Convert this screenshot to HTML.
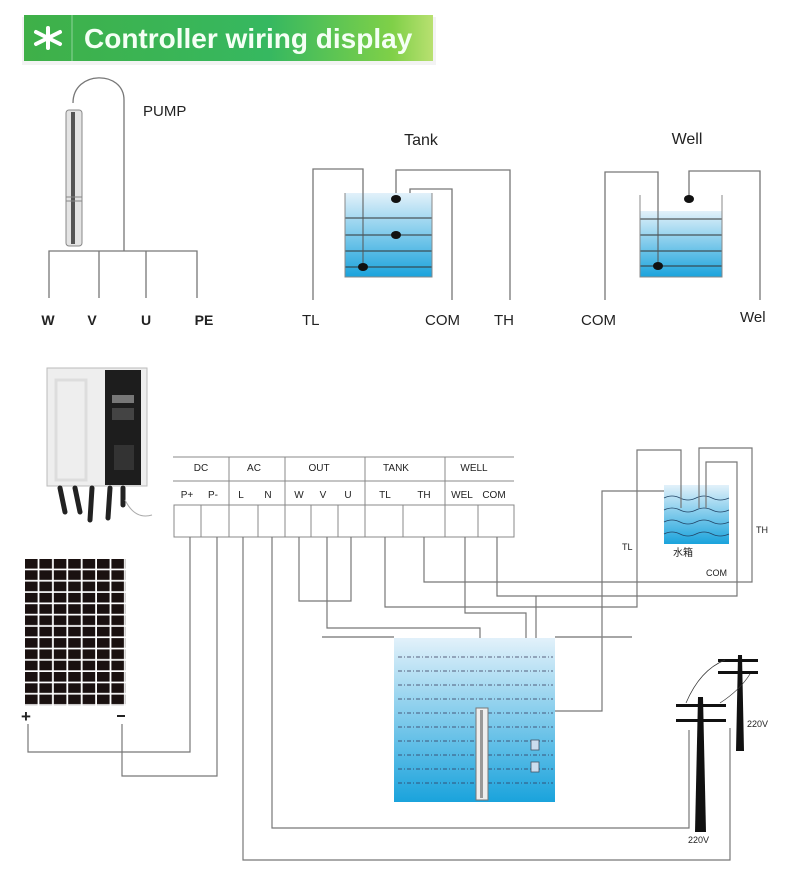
<!DOCTYPE html>
<html><head><meta charset="utf-8"><style>
html,body{margin:0;padding:0;background:#fff;}
svg{display:block;}
text{font-family:"Liberation Sans","Noto Sans CJK SC",sans-serif;fill:#222;}
</style></head><body>
<svg width="790" height="878" viewBox="0 0 790 878" xmlns="http://www.w3.org/2000/svg">
<defs>
<linearGradient id="ban" x1="0" x2="1" y1="0" y2="0">
<stop offset="0" stop-color="#3fb048"/><stop offset="0.6" stop-color="#36b860"/><stop offset="0.9" stop-color="#7fd048"/><stop offset="1" stop-color="#b8e070"/></linearGradient>
<linearGradient id="wat" x1="0" x2="0" y1="0" y2="1">
<stop offset="0" stop-color="#e2f1fa"/><stop offset="1" stop-color="#1aa3dc"/></linearGradient>
<pattern id="cells" x="25" y="559" width="14.4" height="11.3" patternUnits="userSpaceOnUse">
<rect x="0" y="0" width="12.6" height="9.6" fill="#1a1110"/></pattern>
</defs>
<!-- banner -->
<rect x="22" y="17" width="414" height="48" fill="#e8e8e8" opacity="0.5"/>
<rect x="24" y="15" width="409" height="46" fill="url(#ban)"/>
<line x1="72" y1="15" x2="72" y2="61" stroke="#8fd49a" stroke-width="1"/>
<g stroke="#fff" stroke-width="4" stroke-linecap="round" fill="none">
<line x1="48" y1="28" x2="48" y2="48"/><line x1="36" y1="32" x2="60" y2="44"/><line x1="60" y1="32" x2="36" y2="44"/>
</g>
<text x="84" y="48" font-size="28" font-weight="bold" style="fill:#f4fff4">Controller wiring display</text>

<g stroke="#777" stroke-width="1.3" fill="none">
<path d="M73 103 C73 70 124 70 124 100 L124 251"/>
<path d="M49 298 V251 H197 V298 M99 251 V298 M146 251 V298"/>
<path d="M313 300 V169 H363 V267 M396 199 V170 H510 V300 M396 235 H410 V189 H452 V300"/>
<path d="M605 300 V172 H658 V266 M689 199 V171 H760 V300"/>
</g>
<rect x="66" y="110" width="16" height="136" rx="3" fill="#e4e4e4" stroke="#888"/>
<rect x="71" y="112" width="4" height="132" fill="#555"/>
<line x1="66" y1="197" x2="82" y2="197" stroke="#888"/><line x1="66" y1="201" x2="82" y2="201" stroke="#888"/>
<text x="143" y="116" font-size="15">PUMP</text>
<g font-size="14" font-weight="bold" text-anchor="middle"><text x="48" y="325">W</text><text x="92" y="325">V</text><text x="146" y="325">U</text><text x="204" y="325">PE</text></g>

<rect x="345" y="193" width="87" height="84" fill="url(#wat)"/>
<g stroke="#333" stroke-width="1"><line x1="345" y1="218" x2="432" y2="218"/><line x1="345" y1="235" x2="432" y2="235"/><line x1="345" y1="251" x2="432" y2="251"/><line x1="345" y1="267" x2="432" y2="267"/></g>
<path d="M345 193 V277 H432 V193" stroke="#888" fill="none"/>
<line x1="363" y1="193" x2="363" y2="267" stroke="#555"/>
<g fill="#111"><ellipse cx="363" cy="267" rx="5" ry="4"/><ellipse cx="396" cy="199" rx="5" ry="4"/><ellipse cx="396" cy="235" rx="5" ry="4"/></g>
<text x="421" y="145" font-size="16" text-anchor="middle">Tank</text>
<g font-size="15"><text x="302" y="325">TL</text><text x="425" y="325">COM</text><text x="494" y="325">TH</text></g>

<rect x="640" y="211" width="82" height="66" fill="url(#wat)"/>
<g stroke="#333" stroke-width="1"><line x1="640" y1="219" x2="722" y2="219"/><line x1="640" y1="235" x2="722" y2="235"/><line x1="640" y1="251" x2="722" y2="251"/><line x1="640" y1="266" x2="722" y2="266"/></g>
<path d="M640 195 V277 H722 V195" stroke="#888" fill="none"/>
<line x1="658" y1="211" x2="658" y2="266" stroke="#555"/>
<g fill="#111"><ellipse cx="658" cy="266" rx="5" ry="4"/><ellipse cx="689" cy="199" rx="5" ry="4"/></g>
<text x="687" y="144" font-size="16" text-anchor="middle">Well</text>
<g font-size="15"><text x="581" y="325">COM</text><text x="740" y="322">Wel</text></g>

<rect x="47" y="368" width="100" height="118" fill="#eeeeee" stroke="#bbb"/>
<rect x="56" y="380" width="30" height="100" fill="none" stroke="#ddd" stroke-width="3"/>
<rect x="105" y="370" width="36" height="115" fill="#1d1d1d"/>
<rect x="112" y="395" width="22" height="8" fill="#777"/>
<rect x="112" y="408" width="22" height="12" fill="#444"/>
<rect x="114" y="445" width="20" height="25" fill="#333"/>
<g stroke="#222" stroke-width="5" stroke-linecap="round"><line x1="60" y1="488" x2="65" y2="512"/><line x1="75" y1="488" x2="80" y2="512"/><line x1="92" y1="488" x2="90" y2="520"/><line x1="110" y1="488" x2="108" y2="518"/><line x1="123" y1="488" x2="123" y2="505"/></g>
<path d="M125 500 Q135 520 152 515" stroke="#aaa" fill="none"/>

<g stroke="#888" stroke-width="1" fill="none">
<line x1="173" y1="457" x2="514" y2="457"/><line x1="173" y1="481" x2="514" y2="481"/>
<path d="M229 457 V505 M285 457 V505 M365 457 V505 M445 457 V505"/>
<rect x="174" y="505" width="340" height="32"/>
<path d="M201 505 V537 M229 505 V537 M258 505 V537 M285 505 V537 M311 505 V537 M338 505 V537 M365 505 V537 M403 505 V537 M445 505 V537 M478 505 V537"/>
</g>
<g font-size="10" text-anchor="middle"><text x="201" y="471">DC</text><text x="254" y="471">AC</text><text x="319" y="471">OUT</text><text x="396" y="471">TANK</text><text x="474" y="471">WELL</text>
<text x="187" y="498">P+</text><text x="213" y="498">P-</text><text x="241" y="498">L</text><text x="268" y="498">N</text><text x="299" y="498">W</text><text x="323" y="498">V</text><text x="348" y="498">U</text><text x="385" y="498">TL</text><text x="424" y="498">TH</text><text x="462" y="498">WEL</text><text x="494" y="498">COM</text></g>

<rect x="664" y="485" width="65" height="59" fill="url(#wat)"/>
<g stroke="#246" stroke-width="0.8" fill="none">
<path d="M664 498 q8 -4 16 0 t16 0 t16 0 t17 0"/><path d="M664 510 q8 -4 16 0 t16 0 t16 0 t17 0"/><path d="M664 522 q8 -4 16 0 t16 0 t16 0 t17 0"/><path d="M664 534 q8 -4 16 0 t16 0 t16 0 t17 0"/></g>
<text x="683" y="556" font-size="10" text-anchor="middle">水箱</text>
<g font-size="9"><text x="622" y="550">TL</text><text x="756" y="533">TH</text><text x="706" y="576">COM</text></g>

<g stroke="#777" stroke-width="1.2" fill="none">
<path d="M190 537 V752 H28 V724"/>
<path d="M217 537 V776 H122 V724"/>
<path d="M243 537 V860 H730 V728"/>
<path d="M272 537 V828 H689 V730"/>
<path d="M299 537 V601 H351 V537"/>
<path d="M327 537 V628 H480 V708"/>
<path d="M385 537 V607 H637 V450 H681 V508"/>
<path d="M424 537 V582 H752 V448 H699 V508"/>
<path d="M465 537 V613 H526 V742"/>
<path d="M497 537 V596 H737 V462 H706 V508"/>
<path d="M536 596 V742"/>
<path d="M664 491 H602 V711 H488"/>
</g>

<rect x="394" y="638" width="161" height="164" fill="url(#wat)"/>
<g stroke="#888" stroke-width="1.5"><line x1="322" y1="637" x2="394" y2="637"/><line x1="555" y1="637" x2="632" y2="637"/></g>
<g stroke="#335" stroke-width="0.8" stroke-dasharray="4 2 1 2">
<line x1="398" y1="657" x2="553" y2="657"/><line x1="398" y1="671" x2="553" y2="671"/><line x1="398" y1="685" x2="553" y2="685"/><line x1="398" y1="699" x2="553" y2="699"/><line x1="398" y1="713" x2="553" y2="713"/><line x1="398" y1="727" x2="553" y2="727"/><line x1="398" y1="741" x2="553" y2="741"/><line x1="398" y1="755" x2="553" y2="755"/><line x1="398" y1="769" x2="553" y2="769"/><line x1="398" y1="783" x2="553" y2="783"/></g>
<rect x="476" y="708" width="12" height="92" fill="#eee" stroke="#777"/>
<rect x="480" y="710" width="3" height="88" fill="#999"/>
<g fill="#cde" stroke="#456" stroke-width="0.8"><rect x="531" y="740" width="8" height="10"/><rect x="531" y="762" width="8" height="10"/></g>

<g fill="#111">
<path d="M698 697 h5 l3 135 h-11 z"/>
<rect x="676" y="704" width="50" height="3"/><rect x="676" y="719" width="50" height="3"/>
<path d="M738 655 h4 l2 96 h-8 z"/>
<rect x="718" y="659" width="40" height="3"/><rect x="718" y="671" width="40" height="3"/>
</g>
<g stroke="#333" stroke-width="0.7" fill="none"><path d="M686 703 Q700 670 725 660"/><path d="M720 703 Q740 690 750 674"/></g>
<g font-size="9"><text x="747" y="727">220V</text><text x="688" y="843">220V</text></g>

<rect x="25" y="559" width="101" height="147" fill="url(#cells)"/>
<text x="21" y="722" font-size="17" font-weight="bold">+</text>
<rect x="117" y="715" width="8" height="2" fill="#222"/>
</svg>
</body></html>
